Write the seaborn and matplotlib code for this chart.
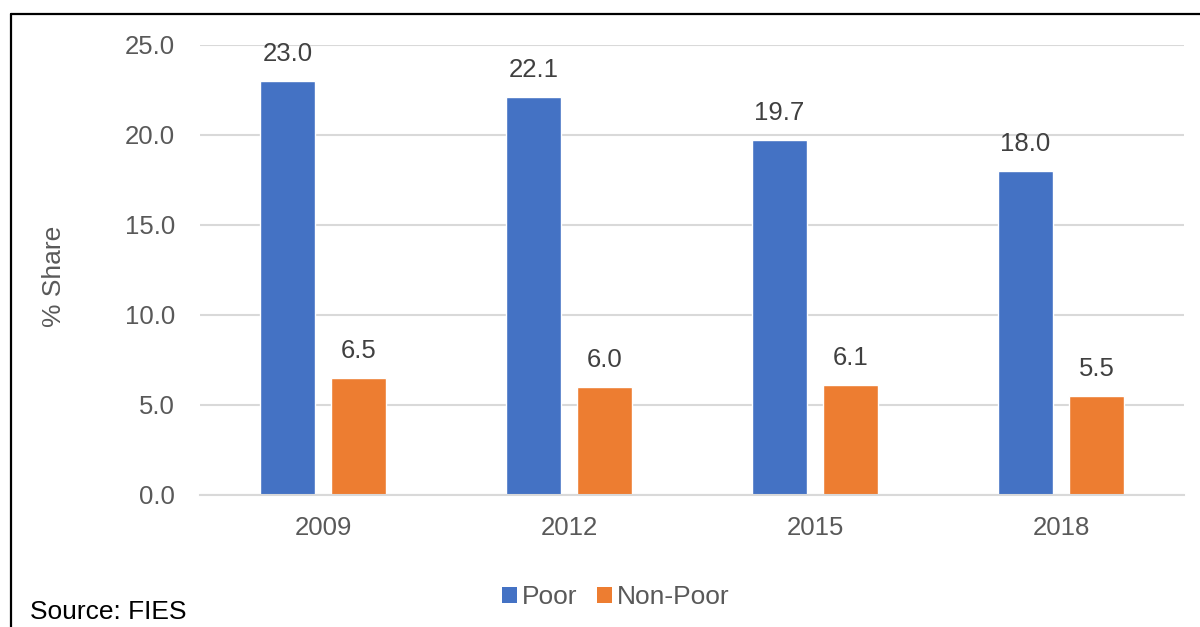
import matplotlib
matplotlib.use("Agg")
import matplotlib.pyplot as plt
from matplotlib.lines import Line2D
from matplotlib.patches import Patch
import seaborn as sns
import pandas as pd

years = ["2009", "2012", "2015", "2018"]
poor = [23.0, 22.1, 19.7, 18.0]
non_poor = [6.5, 6.0, 6.1, 5.5]
groups = ["Poor", "Non-Poor"]
colors = ["#4472C4", "#ED7D31"]

df = pd.DataFrame({
    "Year": years * 2,
    "Share": poor + non_poor,
    "Group": [groups[0]] * len(years) + [groups[1]] * len(years),
})

sns.set_theme(style="white")
plt.rcParams["font.family"] = ["Liberation Sans", "DejaVu Sans"]

fig = plt.figure(figsize=(12, 6.27), dpi=100)
ax = fig.add_axes([200 / 1200, 1 - 495 / 627, 984 / 1200, 450 / 627])

sns.barplot(data=df, x="Year", y="Share", hue="Group", palette=colors,
            width=0.58, gap=0.23, ax=ax, legend=False, errorbar=None,
            saturation=1)

ax.set_ylim(0, 25)
ax.set_xlim(-0.5, len(years) - 0.5)
ax.set_yticks([0, 5, 10, 15, 20, 25])
ax.set_yticklabels([f"{v:.1f}" for v in [0, 5, 10, 15, 20, 25]])
ax.grid(axis="y", color="#d9d9d9", linewidth=1.5)
ax.set_axisbelow(True)
for s in ["left", "right", "top"]:
    ax.spines[s].set_visible(False)
ax.spines["bottom"].set_color("#d9d9d9")
ax.spines["bottom"].set_linewidth(1.5)
ax.tick_params(axis="both", length=0, labelsize=18.5, labelcolor="#595959")
ax.tick_params(axis="y", pad=18)
ax.tick_params(axis="x", pad=15)
ax.set_xlabel("")
ax.set_ylabel("% Share", fontsize=19, color="#595959")
ax.yaxis.set_label_coords(-134 / 984, 0.485)

for cont in ax.containers:
    ax.bar_label(cont, fmt="%.1f", padding=11, fontsize=18.5, color="#404040")

handles = [Patch(facecolor=c, edgecolor="none", label=g) for g, c in zip(groups, colors)]
fig.legend(handles=handles, loc="center", bbox_to_anchor=(616 / 1200, 1 - 597 / 627),
           ncol=2, frameon=False, fontsize=19, labelcolor="#595959",
           handlelength=0.55, handleheight=0.55, handletextpad=0.2, columnspacing=0.75)

fig.text(30 / 1200, 1 - 612 / 627, "Source: FIES", fontsize=19, color="black",
         va="center", ha="left")

# Frame lines along the left and top edges
fig.add_artist(Line2D([11 / 1200, 11 / 1200], [0, 1 - 13.5 / 627], color="black",
                      linewidth=1.6, transform=fig.transFigure))
fig.add_artist(Line2D([11 / 1200, 1], [1 - 13.5 / 627, 1 - 13.5 / 627], color="black",
                      linewidth=1.6, transform=fig.transFigure))

fig.savefig("out.png", dpi=100)
